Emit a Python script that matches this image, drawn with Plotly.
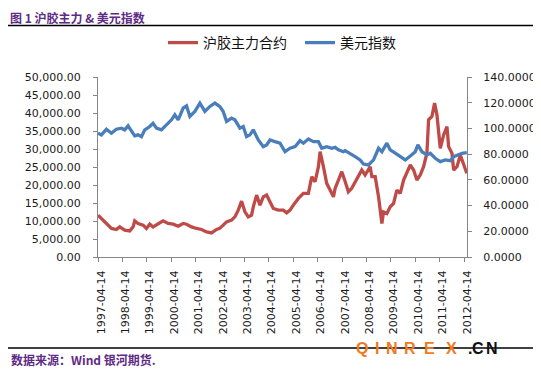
import plotly.graph_objects as go

# ---------------- data ----------------
rubber_dates = [
    "1997-04-14", "1997-06-04", "1997-08-18", "1997-11-01", "1998-01-14", "1998-03-05",
    "1998-05-19", "1998-08-02", "1998-09-21", "1998-10-16", "1998-12-05", "1999-02-18",
    "1999-04-09", "1999-05-29", "1999-07-17", "1999-09-30", "1999-12-14", "2000-02-27",
    "2000-05-13", "2000-07-27", "2000-10-10", "2000-11-29", "2001-02-12", "2001-04-28",
    "2001-07-12", "2001-09-25", "2001-12-09", "2002-02-22", "2002-04-13", "2002-06-01",
    "2002-07-21", "2002-10-04", "2002-11-23", "2003-01-12", "2003-03-03", "2003-04-22",
    "2003-06-11", "2003-07-31", "2003-08-25", "2003-10-14", "2003-12-03", "2004-01-22",
    "2004-03-12", "2004-05-01", "2004-06-20", "2004-09-03", "2004-11-17", "2005-01-06",
    "2005-02-25", "2005-04-16", "2005-06-30", "2005-09-13", "2005-11-27", "2006-01-16",
    "2006-03-07", "2006-04-26", "2006-05-21", "2006-07-10", "2006-08-28", "2006-10-18",
    "2006-12-07", "2007-01-01", "2007-02-20", "2007-04-11", "2007-05-31", "2007-07-19",
    "2007-09-07", "2007-10-27", "2007-12-16", "2008-02-04", "2008-03-25", "2008-05-15",
    "2008-06-09", "2008-07-04", "2008-08-23", "2008-10-12", "2008-12-01", "2008-12-26",
    "2009-02-14", "2009-04-05", "2009-05-25", "2009-07-13", "2009-09-02", "2009-10-22",
    "2009-12-10", "2010-01-30", "2010-03-21", "2010-05-09", "2010-06-28", "2010-08-17",
    "2010-10-06", "2010-10-31", "2010-12-20", "2011-01-29", "2011-03-05", "2011-04-24",
    "2011-06-13", "2011-08-02", "2011-08-27", "2011-10-16", "2011-11-10", "2011-12-30",
    "2012-02-18", "2012-04-08", "2012-05-25",
]
rubber_values = [
    11620, 10700, 9110, 7920, 7640, 8360,
    7440, 7250, 8360, 10030, 9310, 8840,
    7920, 9110, 8360, 9310, 10030, 9310,
    9110, 8560, 9310, 9110, 8360, 7920,
    7640, 6970, 6690, 7640, 8000, 8840,
    9760, 10230, 11150, 13020, 15520, 12540,
    11150, 11620, 13940, 17200, 14410, 16720,
    17200, 15330, 13490, 13020, 13020, 12260,
    13020, 14410, 16280, 17670, 17670, 22300,
    20900, 25080, 29260, 25080, 20460, 18590,
    16720, 19060, 21380, 23690, 21000, 18120,
    19060, 20900, 22300, 24160, 22770, 24160,
    25080, 22300, 22300, 16720, 9310, 12540,
    12090, 13940, 14880, 18590, 17670, 21380,
    23250, 25560, 24160, 21380, 22770, 25080,
    28820, 38100, 39020, 42750, 39490, 30210,
    33920, 36230, 30660, 28820, 24160, 25080,
    28340, 26030, 23250,
]

usd_dates = [
    "1997-04-14", "1997-06-04", "1997-08-18", "1997-11-01", "1998-01-14", "1998-03-30",
    "1998-05-19", "1998-07-08", "1998-08-17", "1998-10-16", "1998-12-05", "1999-01-24",
    "1999-03-15", "1999-05-29", "1999-07-17", "1999-09-06", "1999-11-20", "2000-02-03",
    "2000-04-18", "2000-06-07", "2000-07-27", "2000-10-10", "2000-11-29", "2001-01-18",
    "2001-04-03", "2001-06-17", "2001-08-31", "2001-11-14", "2002-01-28", "2002-04-13",
    "2002-06-01", "2002-07-21", "2002-10-04", "2002-11-23", "2003-02-06", "2003-03-28",
    "2003-05-17", "2003-07-06", "2003-08-25", "2003-11-08", "2004-01-22", "2004-03-12",
    "2004-05-01", "2004-07-15", "2004-09-28", "2004-12-12", "2005-02-25", "2005-05-11",
    "2005-07-25", "2005-09-13", "2005-11-27", "2006-02-10", "2006-04-26", "2006-06-15",
    "2006-08-28", "2006-11-11", "2007-01-01", "2007-02-20", "2007-05-06", "2007-05-31",
    "2007-08-13", "2007-10-27", "2008-01-10", "2008-02-29", "2008-05-15", "2008-07-29",
    "2008-10-12", "2008-12-01", "2009-02-14", "2009-04-05", "2009-06-19", "2009-09-02",
    "2009-11-16", "2010-01-30", "2010-04-15", "2010-05-24", "2010-07-23", "2010-10-06",
    "2010-11-25", "2011-02-08", "2011-04-24", "2011-07-08", "2011-09-21", "2011-11-10",
    "2012-01-24", "2012-03-14", "2012-05-25",
]
usd_values = [
    96.3, 95.0, 99.4, 96.3, 99.4, 100.2,
    98.9, 102.0, 98.9, 94.2, 95.0, 93.6,
    98.9, 101.5, 104.0, 100.2, 98.9, 102.8,
    106.7, 110.6, 106.7, 115.8, 117.6, 109.3,
    113.2, 119.7, 113.2, 117.1, 119.7, 117.0,
    113.2, 105.4, 108.0, 106.7, 100.2, 101.5,
    93.6, 95.0, 98.9, 91.0, 85.8, 87.2,
    91.0, 89.7, 88.5, 81.9, 84.6, 85.8,
    90.5, 88.5, 91.8, 89.7, 89.7, 84.6,
    85.8, 84.6, 85.3, 83.3, 81.9, 82.7,
    80.7, 78.0, 75.5, 72.3, 71.6, 75.5,
    84.6, 81.9, 88.5, 83.3, 80.7, 78.0,
    75.5, 78.6, 81.9, 87.2, 81.9, 79.4,
    80.7, 76.8, 74.2, 75.5, 74.9, 78.0,
    79.4, 80.7, 81.2,
]

year_ticks = [f"{y}-04-14" for y in range(1997, 2013)]
left_ticks = [0, 5000, 10000, 15000, 20000, 25000, 30000, 35000, 40000, 45000, 50000]
right_ticks = [0, 20, 40, 60, 80, 100, 120, 140]

series_names = ["沪胶主力合约", "美元指数"]
title_text = "图 1 沪胶主力 & 美元指数"
source_text = "数据来源：Wind 银河期货."

# ---------------- layout helpers ----------------
# The page body keeps the browser's default 8px margin, so the figure is
# drawn 8px in from the window's top-left corner.
OFF = 8
W, H = 541 - OFF, 369 - OFF
L, R, T, B = 98 - OFF, 74, 77 - OFF, 112
PW, PH = W - L - R, H - T - B


def px_x(x):  # window pixel -> paper fraction
    return (x - OFF - L) / PW


def px_y(y):
    return (H - B - (y - OFF)) / PH


axis_grey = "#868686"
tick_font = dict(family="DejaVu Sans", size=11, color="#1a1a1a")
purple = "#5E2B86"

fig = go.Figure()
fig.add_trace(go.Scatter(
    x=rubber_dates, y=rubber_values, name=series_names[0], mode="lines",
    line=dict(color="#BE4B48", width=3.3),
))
fig.add_trace(go.Scatter(
    x=usd_dates, y=usd_values, name=series_names[1], mode="lines", yaxis="y2",
    line=dict(color="#4A7EBB", width=3.3),
))

fig.update_layout(
    width=W, height=H,
    margin=dict(l=L, r=R, t=T, b=B, pad=0, autoexpand=False),
    paper_bgcolor="white", plot_bgcolor="white",
    showlegend=True,
    legend=dict(
        orientation="h", x=px_x(163), y=px_y(43), xanchor="left", yanchor="middle",
        font=dict(family="Noto Sans CJK SC", size=14, color="#111"),
        bgcolor="rgba(0,0,0,0)", itemwidth=30, tracegroupgap=0,
        entrywidth=92, entrywidthmode="pixels",
    ),
    xaxis=dict(
        type="date", range=["1997-04-14", "2012-05-28"],
        tickmode="array", tickvals=year_ticks, tickformat="%Y-%m-%d",
        tickangle=-90, ticks="outside", ticklen=4, tickcolor=axis_grey,
        showline=True, linecolor=axis_grey, linewidth=1,
        showgrid=False, zeroline=False, tickfont=tick_font,
        ticklabelstandoff=4, ticklabelshift=3, automargin=False,
    ),
    yaxis=dict(
        range=[0, 50000], tickmode="array", tickvals=left_ticks, tickformat=",.2f",
        ticks="outside", ticklen=4, tickcolor=axis_grey,
        showline=True, linecolor=axis_grey, linewidth=1,
        showgrid=False, zeroline=False, tickfont=tick_font,
        ticklabelstandoff=10, automargin=False,
    ),
    yaxis2=dict(
        overlaying="y", side="right", range=[0, 140], tickmode="array",
        tickvals=right_ticks, tickformat=".4f",
        ticks="outside", ticklen=4, tickcolor=axis_grey,
        showline=True, linecolor=axis_grey, linewidth=1,
        showgrid=False, zeroline=False, tickfont=tick_font,
        ticklabelstandoff=9, automargin=False,
    ),
)

# title and its rule
fig.add_annotation(
    text=title_text, xref="paper", yref="paper", x=px_x(9), y=px_y(17),
    xanchor="left", yanchor="middle", showarrow=False, borderpad=0,
    font=dict(family="Noto Sans CJK SC", size=12, color=purple, weight="bold"),
)
fig.add_shape(type="line", xref="paper", yref="paper",
              x0=px_x(8), x1=px_x(538), y0=px_y(25.5), y1=px_y(25.5),
              line=dict(color="black", width=1.5))

# footer rule and source text
fig.add_shape(type="line", xref="paper", yref="paper",
              x0=px_x(8), x1=px_x(541), y0=px_y(348), y1=px_y(348),
              line=dict(color="black", width=1.5))
fig.add_annotation(
    text=source_text, xref="paper", yref="paper", x=px_x(9), y=px_y(359),
    xanchor="left", yanchor="middle", showarrow=False,
    font=dict(family="Noto Sans CJK SC", size=12, color=purple, weight="bold"),
)

# watermark letters
wm = [("Q", 362, "#F07A1E"), ("I", 377, "#F07A1E"), ("N", 392, "#F07A1E"),
      ("R", 410, "#F07A1E"), ("E", 429, "#F07A1E"), ("X", 451, "#F07A1E"),
      (".", 470, "#111111"), ("C", 478, "#111111"), ("N", 492, "#111111")]
for ch, cx, col in wm:
    fig.add_annotation(
        text=ch, xref="paper", yref="paper", x=px_x(cx), y=px_y(348),
        xanchor="center", yanchor="middle", showarrow=False,
        font=dict(family="Liberation Sans", size=16, color=col, weight="bold"),
    )

fig.write_html("out.html")
